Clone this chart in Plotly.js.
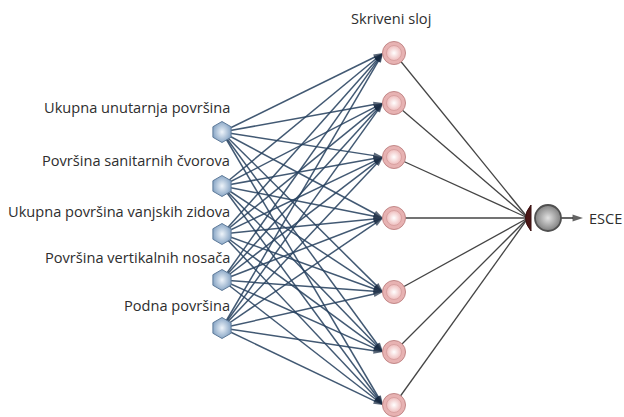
<!DOCTYPE html>
<html>
<head>
<meta charset="utf-8">
<script src="https://cdn.plot.ly/plotly-3.0.1.min.js"></script>
<style>html,body{margin:0;padding:0;background:#fff;}#chart{width:624px;height:417px;}</style>
</head>
<body>
<div id="chart"></div>
<script>
// ---- content ----
const inputLabels = [
  "Ukupna unutarnja površina",
  "Površina sanitarnih čvorova",
  "Ukupna površina vanjskih zidova",
  "Površina vertikalnih nosača",
  "Podna površina"
];
const hiddenTitle = "Skriveni sloj";
const hiddenCount = 7;
const outputLabel = "ESCE";

// ---- layout geometry (pixel-like coordinates) ----
const inX = 222;
const inY = [132, 186, 234, 280, 328];
const labelY = [107, 160, 211, 257, 305];
const hidX = 394;
const hidY = [53, 103, 157, 218, 292, 352, 405];
const outX = 548, outY = 218;
const connX = 528;

const traces = [];
// input -> hidden edges
for (let i = 0; i < inY.length; i++) {
  for (let h = 0; h < hiddenCount; h++) {
    traces.push({
      type: 'scatter', mode: 'lines+markers',
      x: [inX, hidX - 11], y: [inY[i], hidY[h]],
      line: {color: 'rgba(40,66,96,0.88)', width: 1.5},
      marker: {symbol: ['circle', 'arrow'], size: [0, 10], angleref: 'previous',
               color: '#172a42', line: {width: 0}},
      hoverinfo: 'skip'
    });
  }
}
// hidden -> output edges
for (let h = 0; h < hiddenCount; h++) {
  traces.push({
    type: 'scatter', mode: 'lines',
    x: [hidX, connX], y: [hidY[h], outY],
    line: {color: '#454545', width: 1.3},
    hoverinfo: 'skip'
  });
}
// output arrow
traces.push({
  type: 'scatter', mode: 'lines+markers',
  x: [outX, 583], y: [outY, outY],
  line: {color: '#555', width: 1.8},
  marker: {symbol: ['circle', 'arrow'], size: [0, 11], angleref: 'previous', color: '#222', line: {width: 0}},
  hoverinfo: 'skip'
});
// input nodes
traces.push({
  type: 'scatter', mode: 'markers',
  x: inY.map(() => inX), y: inY,
  marker: {symbol: 'hexagon', size: 21, color: '#8aa7c6',
           gradient: {type: 'radial', color: '#eef4fa'},
           line: {color: '#5f7b9a', width: 1}},
  hoverinfo: 'skip'
});
// hidden nodes outer
traces.push({
  type: 'scatter', mode: 'markers',
  x: hidY.map(() => hidX), y: hidY,
  marker: {symbol: 'circle', size: 23, color: '#e7b2b2',
           line: {color: '#c28888', width: 1}},
  hoverinfo: 'skip'
});
// hidden nodes inner
traces.push({
  type: 'scatter', mode: 'markers',
  x: hidY.map(() => hidX), y: hidY,
  marker: {symbol: 'circle', size: 15, color: '#eebcbc',
           gradient: {type: 'radial', color: '#ffffff'},
           line: {color: '#d49c9c', width: 0.8}},
  hoverinfo: 'skip'
});
// output node
traces.push({
  type: 'scatter', mode: 'markers',
  x: [outX], y: [outY],
  marker: {symbol: 'circle', size: 26, color: '#808080',
           gradient: {type: 'radial', color: '#e2e2e2'},
           line: {color: '#505050', width: 1.8}},
  hoverinfo: 'skip'
});

const font = {family: '"Open Sans", Roboto, sans-serif', size: 14.6, color: '#2e2e2e', weight: 500};
const annotations = inputLabels.map((t, i) => ({
  x: 232, y: labelY[i], xref: 'x', yref: 'y', text: t, showarrow: false,
  xanchor: 'right', yanchor: 'middle', font: font
}));
annotations.push({x: 391, y: 18, xref: 'x', yref: 'y', text: hiddenTitle, showarrow: false,
  xanchor: 'center', yanchor: 'middle', font: font});
annotations.push({x: 587, y: outY, xref: 'x', yref: 'y', text: outputLabel, showarrow: false,
  xanchor: 'left', yanchor: 'middle', font: font});

const layout = {
  width: 624, height: 417,
  margin: {l: 0, r: 0, t: 0, b: 0},
  paper_bgcolor: '#fff', plot_bgcolor: '#fff',
  showlegend: false, hovermode: false,
  xaxis: {range: [0, 624], visible: false, fixedrange: true},
  yaxis: {range: [417, 0], visible: false, fixedrange: true},
  annotations: annotations,
  shapes: [{
    type: 'path', xref: 'x', yref: 'y',
    path: `M ${connX + 3} ${outY - 13} Q ${connX - 8} ${outY} ${connX + 3} ${outY + 13} Z`,
    fillcolor: '#4a1616', line: {color: '#3a1010', width: 1}, layer: 'above'
  }]
};

Plotly.newPlot('chart', traces, layout, {staticPlot: true, displayModeBar: false});
</script>
</body>
</html>
